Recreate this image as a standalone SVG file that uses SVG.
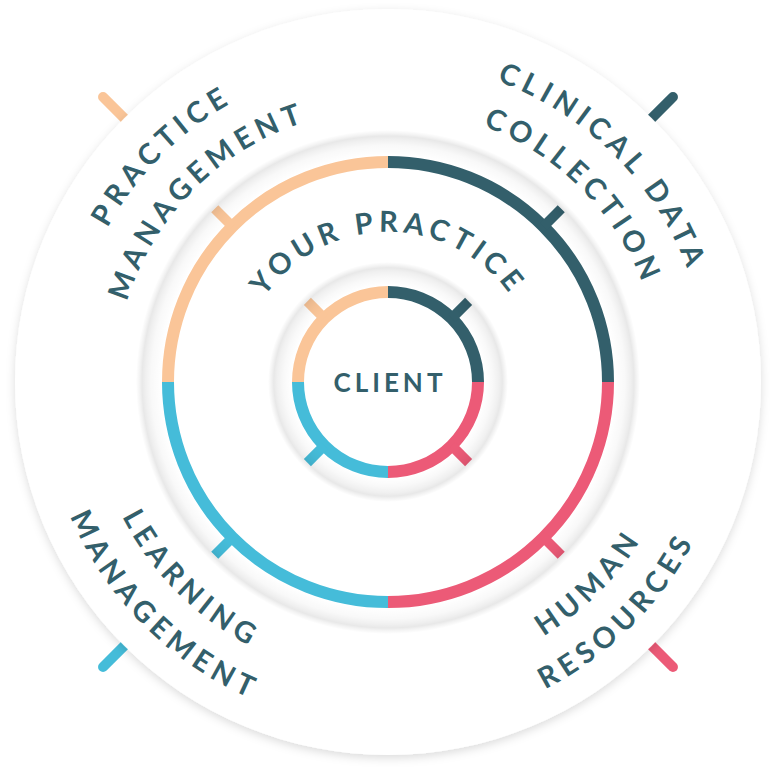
<svg xmlns="http://www.w3.org/2000/svg" xmlns:xlink="http://www.w3.org/1999/xlink" width="774" height="775" viewBox="0 0 774 775">
<defs>
<style>
.lbl{font-family:Lato,"Liberation Sans",sans-serif;font-weight:700;fill:#335f6b;font-size:29px;letter-spacing:5.5px}
.arc{fill:none;stroke-width:12}
.tk{stroke-width:10;stroke-linecap:butt}
.otk{stroke-width:10;stroke-linecap:round}
.teal{stroke:#335f6b}.pink{stroke:#ec5a77}.cyan{stroke:#45bcd9}.peach{stroke:#fac598}
</style>
<filter id="sh" x="-10%" y="-10%" width="120%" height="120%">
<feDropShadow dx="0" dy="3" stdDeviation="5" flood-color="#000" flood-opacity="0.14"/>
</filter>
<radialGradient id="gMid" gradientUnits="userSpaceOnUse" cx="388" cy="382" r="252">
<stop offset="0" stop-color="#000" stop-opacity="0"/>
<stop offset="0.897" stop-color="#000" stop-opacity="0"/>
<stop offset="0.94" stop-color="#000" stop-opacity="0.025"/>
<stop offset="0.962" stop-color="#000" stop-opacity="0.06"/>
<stop offset="0.976" stop-color="#000" stop-opacity="0.09"/>
<stop offset="0.985" stop-color="#000" stop-opacity="0.05"/>
<stop offset="1" stop-color="#000" stop-opacity="0"/>
</radialGradient>
<radialGradient id="gIn" gradientUnits="userSpaceOnUse" cx="388" cy="382" r="120">
<stop offset="0" stop-color="#000" stop-opacity="0"/>
<stop offset="0.8" stop-color="#000" stop-opacity="0"/>
<stop offset="0.87" stop-color="#000" stop-opacity="0.025"/>
<stop offset="0.925" stop-color="#000" stop-opacity="0.06"/>
<stop offset="0.952" stop-color="#000" stop-opacity="0.09"/>
<stop offset="0.972" stop-color="#000" stop-opacity="0.05"/>
<stop offset="1" stop-color="#000" stop-opacity="0"/>
</radialGradient>
<path id="cw150" d="M388,532 A150,150 0 1 1 388,232 A150,150 0 1 1 388,532"/>
<path id="cw320" d="M388,702 A320,320 0 1 1 388,62 A320,320 0 1 1 388,702"/>
<path id="cw273" d="M388,655 A273,273 0 1 1 388,109 A273,273 0 1 1 388,655"/>
<path id="ccw298" d="M388,84 A298,298 0 1 0 388,680 A298,298 0 1 0 388,84"/>
<path id="ccw345" d="M388,37 A345,345 0 1 0 388,727 A345,345 0 1 0 388,37"/>
</defs>
<rect width="774" height="775" fill="#fff"/>

<g id="connectors">
<line class="otk teal" x1="646.09" y1="123.91" x2="672.96" y2="97.04"/>
<line class="otk pink" x1="646.09" y1="640.09" x2="672.96" y2="666.96"/>
<line class="otk cyan" x1="129.91" y1="640.09" x2="103.04" y2="666.96"/>
<line class="otk peach" x1="129.91" y1="123.91" x2="103.04" y2="97.04"/>
</g>

<g id="outer-ring">
<circle cx="388" cy="382" r="373" fill="#fff" filter="url(#sh)"/>
</g>

<g id="middle-ring">
<path class="arc teal" d="M388,162 A220,220 0 0 1 608,382"/>
<path class="arc pink" d="M608,382 A220,220 0 0 1 388,602"/>
<path class="arc cyan" d="M388,602 A220,220 0 0 1 168,382"/>
<path class="arc peach" d="M168,382 A220,220 0 0 1 388,162"/>
<line class="tk teal" x1="543.56" y1="226.44" x2="561.24" y2="208.76"/>
<line class="tk pink" x1="543.56" y1="537.56" x2="561.24" y2="555.24"/>
<line class="tk cyan" x1="232.44" y1="537.56" x2="214.76" y2="555.24"/>
<line class="tk peach" x1="232.44" y1="226.44" x2="214.76" y2="208.76"/>
<circle cx="388" cy="382" r="252" fill="url(#gMid)"/>
</g>

<g id="inner-ring">
<path class="arc teal" d="M388,292 A90,90 0 0 1 478,382"/>
<path class="arc pink" d="M478,382 A90,90 0 0 1 388,472"/>
<path class="arc cyan" d="M388,472 A90,90 0 0 1 298,382"/>
<path class="arc peach" d="M298,382 A90,90 0 0 1 388,292"/>
<line class="tk teal" x1="451.64" y1="318.36" x2="468.61" y2="301.39"/>
<line class="tk pink" x1="451.64" y1="445.64" x2="468.61" y2="462.61"/>
<line class="tk cyan" x1="324.36" y1="445.64" x2="307.39" y2="462.61"/>
<line class="tk peach" x1="324.36" y1="318.36" x2="307.39" y2="301.39"/>
<circle cx="388" cy="382" r="120" fill="url(#gIn)"/>
</g>

<g id="client">
<text class="lbl" x="390" y="392" text-anchor="middle" style="font-size:26px;letter-spacing:4px">CLIENT</text>
</g>
<g id="your-practice">
<text class="lbl" text-anchor="middle" style="letter-spacing:5px"><textPath href="#cw150" startOffset="50%">YOUR PRACTICE</textPath></text>
</g>
<g id="practice-management">
<text class="lbl" text-anchor="middle"><textPath href="#cw320" startOffset="37.5%">PRACTICE</textPath></text>
<text class="lbl" text-anchor="middle"><textPath href="#cw273" startOffset="37.5%">MANAGEMENT</textPath></text>
</g>
<g id="clinical-data-collection">
<text class="lbl" text-anchor="middle"><textPath href="#cw320" startOffset="62.5%">CLINICAL DATA</textPath></text>
<text class="lbl" text-anchor="middle"><textPath href="#cw273" startOffset="62.5%">COLLECTION</textPath></text>
</g>
<g id="learning-management">
<text class="lbl" text-anchor="middle"><textPath href="#ccw298" startOffset="37.5%">LEARNING</textPath></text>
<text class="lbl" text-anchor="middle"><textPath href="#ccw345" startOffset="37.5%">MANAGEMENT</textPath></text>
</g>
<g id="human-resources">
<text class="lbl" text-anchor="middle"><textPath href="#ccw298" startOffset="62.5%">HUMAN</textPath></text>
<text class="lbl" text-anchor="middle"><textPath href="#ccw345" startOffset="62.5%">RESOURCES</textPath></text>
</g>
</svg>
